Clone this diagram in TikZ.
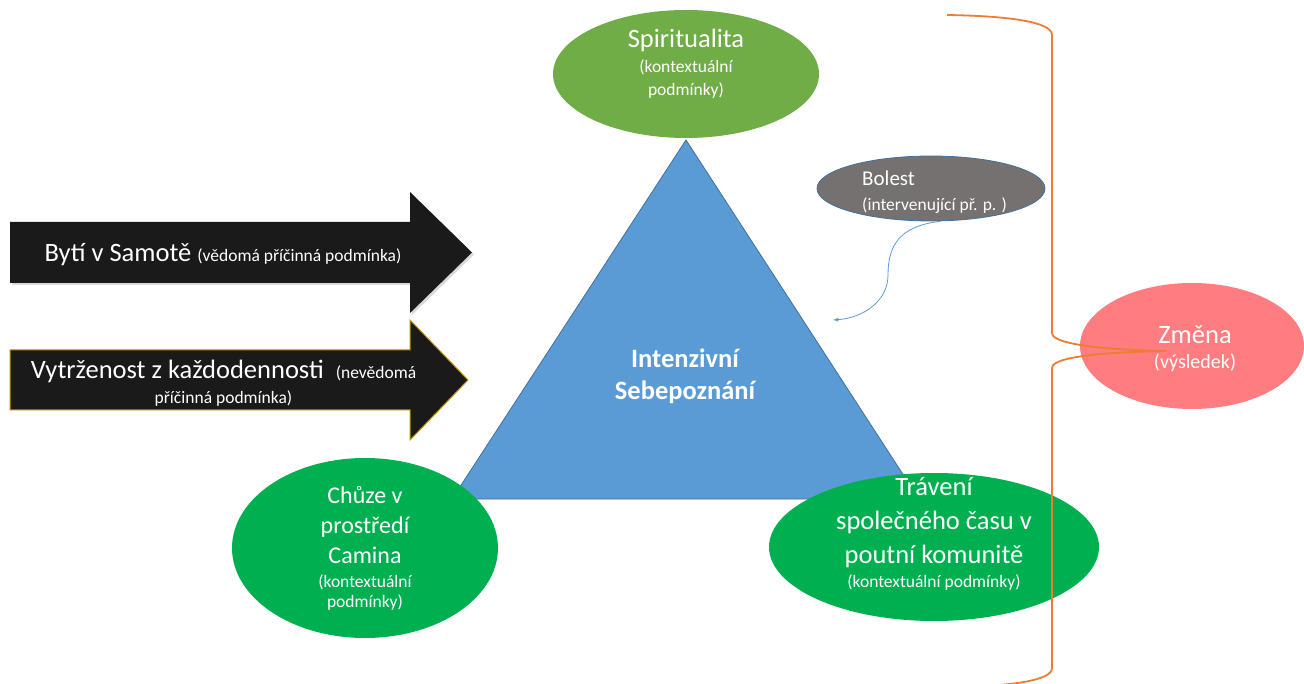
\documentclass[tikz,border=0pt]{standalone}
\usepackage{fontspec}
\setmainfont{Carlito}
\usetikzlibrary{calc,arrows,shapes.geometric,shadows}
\definecolor{leaf}{HTML}{70AD47}
\definecolor{grass}{HTML}{00B050}
\definecolor{sky}{HTML}{5B9BD5}
\definecolor{skyedge}{HTML}{41719C}
\definecolor{stone}{HTML}{767171}
\definecolor{rose}{HTML}{FF7C80}
\definecolor{ink}{HTML}{1A1A1A}
\definecolor{gold}{HTML}{BF9000}
\definecolor{brace}{HTML}{ED7D31}
\newcommand{\pismo}[2]{\fontsize{#1}{#2}\selectfont}
\newcommand{\drobne}{\fontsize{17.5}{21}\selectfont}

\begin{document}
\begin{tikzpicture}[x=1pt,y=-1pt,
    bubble/.style={ellipse, inner sep=0pt},
    lbl/.style={text=white, inner sep=0pt, align=center}]
    \useasboundingbox (0,0) rectangle (1304,684);
    \filldraw[fill=sky, draw=skyedge, line width=0.8pt] (686,140) -- (452,499) -- (919,499) -- cycle;
    \foreach \n/\x/\y/\rx/\ry/\c in {spirit/686/74/133/64/leaf, chuze/365/548/133/90/grass, trav/934/547/165/74/grass} {
        \node[bubble, fill=\c, minimum width=2*\rx, minimum height=2*\ry] (\n) at (\x,\y) {};
    };
    \node[bubble, fill=stone, draw=skyedge, line width=0.8pt, minimum width=228, minimum height=65] (bolest) at (931,188.5) {};
    \fill[ink, drop shadow={opacity=0.3, shadow xshift=2pt, shadow yshift=-2pt}] (10,222) -- (410,222) -- (410,192) -- (472,252.5) -- (410,313) -- (410,283) -- (10,283) -- cycle;
    \filldraw[fill=ink, draw=gold, line width=1pt] (10,350) -- (410,350) -- (410,320) -- (468,380) -- (410,440) -- (410,410) -- (10,410) -- cycle;
    \coordinate (dopad) at (833,320);
    \draw[sky, line width=0.8pt, -latex] ([xshift=9pt]bolest.south) .. controls (900,226) and (888,245) .. (888,275) .. controls (888,302) and (862,318) .. (dopad);
    \node[bubble, fill=rose, minimum width=224, minimum height=126] (zmena) at (1192,346) {};
    \coordinate (hrot) at (1167,351);
    \draw[brace, line width=1.8pt] (947,15) .. controls (1010,16) and (1052,22) .. (1052,35) -- (1052,333) .. controls (1052,345) and (1110,350) .. (hrot)
        .. controls (1110,352) and (1052,356) .. (1052,368) -- (1052,668) .. controls (1052,681) and (1010,686) .. (947,688);
    \node[lbl, anchor=base, font=\pismo{26.5}{33}] (samota) at (223,262) {Bytí v Samotě {\drobne (vědomá příčinná podmínka)}};
    \node[lbl, font=\pismo{26.5}{34}] (vytrzenost) at (223.5,383) {Vytrženost z každodennosti~ {\drobne (nevědomá}\\[-9pt]{\drobne příčinná podmínka)}};
    \node[lbl, font=\pismo{26.5}{25}] (spirit-t) at (686,63.5) {Spiritualita\\{\drobne (kontextuální}\\[-2pt]{\drobne podmínky)}};
    \node[lbl, font=\bfseries\pismo{26.5}{32}] (jadro) at (685,376.5) {Intenzivní\\Sebepoznání};
    \node[lbl, font=\pismo{24}{30}] (chuze-t) at (365,548) {Chůze v\\prostředí\\Camina\\[-6pt]{\drobne (kontextuální}\\[-10pt]{\drobne podmínky)}};
    \node[lbl, font=\pismo{26.5}{34}] (trav-t) at (934,533.5) {Trávení\\společného času v\\poutní komunitě\\[-10pt]{\drobne (kontextuální podmínky)}};
    \node[lbl, align=left, anchor=west, font=\pismo{21}{25}] (bolest-t) at (862,192) {Bolest\\{\drobne (intervenující př. p. )}};
    \node[lbl, font=\pismo{26.5}{25}] (zmena-t) at (1195,348.5) {Změna\\{\pismo{20}{24}(výsledek)}};
\end{tikzpicture}
\end{document}
